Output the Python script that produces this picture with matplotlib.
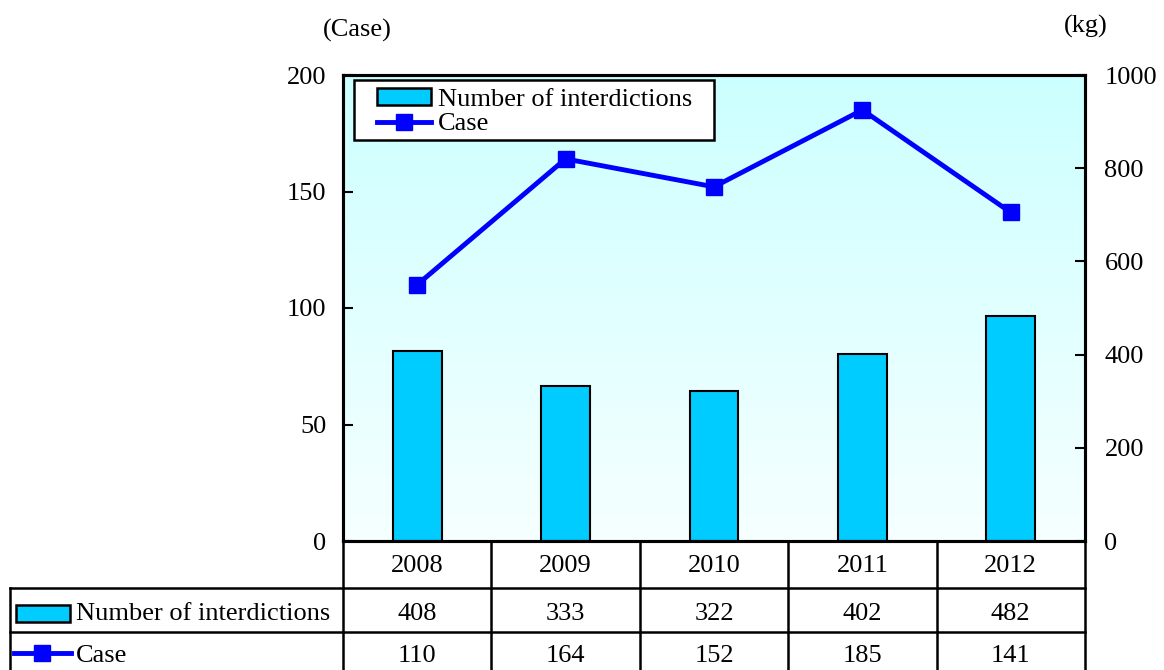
import numpy as np
import matplotlib
matplotlib.use("Agg")
import matplotlib.pyplot as plt
from matplotlib.patches import Rectangle
from matplotlib.lines import Line2D

plt.rcParams['font.family'] = ['Liberation Serif', 'DejaVu Serif']

years = ['2008', '2009', '2010', '2011', '2012']
interdictions = [408, 333, 322, 402, 482]   # kg, right axis
cases = [110, 164, 152, 185, 141]           # case, left axis
bar_label = 'Number of interdictions'
line_label = 'Case'

W, H = 1164, 670
fs = 19
bar_color = '#00CCFF'
line_color = '#0000FF'

fig = plt.figure(figsize=(W / 100, H / 100), dpi=100)

# plot area in pixels
x0, x1 = 343, 1085
ytop, ybot = 75, 541
ax = fig.add_axes([x0 / W, (H - ybot) / H, (x1 - x0) / W, (ybot - ytop) / H])
ax2 = ax.twinx()
ax.set_zorder(ax2.get_zorder() + 1)
ax.patch.set_visible(False)

# gradient background
grad = np.linspace(0, 1, 256).reshape(-1, 1)
top_c = np.array([204, 255, 255]) / 255
bot_c = np.array([246, 255, 255]) / 255
img = top_c[None, None, :] * (1 - grad[:, :, None]) + bot_c[None, None, :] * grad[:, :, None]
ax2.imshow(img, extent=[-0.5, 4.5, 0, 1000], aspect='auto', zorder=0)

xs = np.arange(len(years))
ax2.bar(xs, interdictions, width=0.33, color=bar_color, edgecolor='black', linewidth=1.5, zorder=2)
ax.plot(xs, cases, color=line_color, lw=3.5, marker='s', ms=11, zorder=3)

ax.set_xlim(-0.5, 4.5)
ax2.set_xlim(-0.5, 4.5)
ax.set_ylim(0, 200)
ax2.set_ylim(0, 1000)
ax.set_yticks([0, 50, 100, 150, 200])
ax2.set_yticks([0, 200, 400, 600, 800, 1000])
ax.set_xticks([])
for a in (ax, ax2):
    a.tick_params(axis='y', direction='in', length=7, width=1.5, labelsize=fs)
    for s in a.spines.values():
        s.set_linewidth(2.2)
ax.yaxis.set_tick_params(pad=12)
ax2.yaxis.set_tick_params(pad=14)

fig.text(357 / W, 1 - 30 / H, '(Case)', fontsize=fs, ha='center', va='center')
fig.text(1086 / W, 1 - 26 / H, '(kg)', fontsize=fs, ha='center', va='center')

# legend: no frame of its own, box drawn separately
h_bar = Rectangle((0, 0), 1, 1, facecolor=bar_color, edgecolor='black', linewidth=1.8)
h_line = Line2D([], [], color=line_color, lw=3.5, marker='s', ms=11)
leg = ax.legend([h_bar, h_line], [bar_label, line_label], loc='upper left',
                bbox_to_anchor=(377 / W, 1 - 88 / H), bbox_transform=fig.transFigure,
                fontsize=fs, frameon=False, borderpad=0, labelspacing=0.08,
                handlelength=2.05, handleheight=0.6, handletextpad=0.25, borderaxespad=0)
leg.set_zorder(10)
ax.add_patch(Rectangle((354 / W, 1 - 140 / H), 360 / W, 60 / H, transform=fig.transFigure,
                       facecolor='white', edgecolor='black', lw=1.8, zorder=5, clip_on=False))

# data table below the plot, same category scale
tleft = 10
tax = fig.add_axes([tleft / W, 0, (x1 - tleft) / W, (H - ybot) / H])
unit = (x1 - x0) / 5
tax.set_xlim(-0.5 - (x0 - tleft) / unit, 4.5)
tax.set_ylim(H - ybot, 0)  # pixels downward from the axis bottom
tax.axis('off')
lw = 1.8
r1, r2, r3 = 47, 91, 135
xl = -0.5 - (x0 - tleft) / unit
kw = dict(color='black', lw=lw, clip_on=False, solid_capstyle='projecting')
tax.plot([-0.5, 4.5], [0, 0], **kw)
tax.plot([xl, 4.5], [r1, r1], **kw)
tax.plot([xl, 4.5], [r2, r2], **kw)
tax.plot([xl, 4.5], [r3, r3], **kw)
tax.plot([xl, xl], [r1, r3], **kw)
for i in range(6):
    tax.plot([i - 0.5, i - 0.5], [0, r3], **kw)
y_head, y_row1, y_row2 = 25.5, 73, 115
for i, y in enumerate(years):
    tax.text(i, y_head, y, fontsize=fs, ha='center', va='center')
    tax.text(i, y_row1, str(interdictions[i]), fontsize=fs, ha='center', va='center')
    tax.text(i, y_row2, str(cases[i]), fontsize=fs, ha='center', va='center')

# row label icons
px = 1 / unit
tax.add_patch(Rectangle((xl + 6 * px, 64), 54 * px, 17, facecolor=bar_color,
                        edgecolor='black', lw=1.8, clip_on=False))
tax.text(xl + 66 * px, y_row1, bar_label, fontsize=fs, ha='left', va='center')
ly = 112
tax.plot([xl + 4 * px, xl + 61 * px], [ly, ly], color=line_color, lw=3.5, clip_on=False)
tax.plot([xl + 32 * px], [ly], color=line_color, marker='s', ms=11, clip_on=False)
tax.text(xl + 66 * px, y_row2, line_label, fontsize=fs, ha='left', va='center')

fig.savefig('out.png', dpi=100)
